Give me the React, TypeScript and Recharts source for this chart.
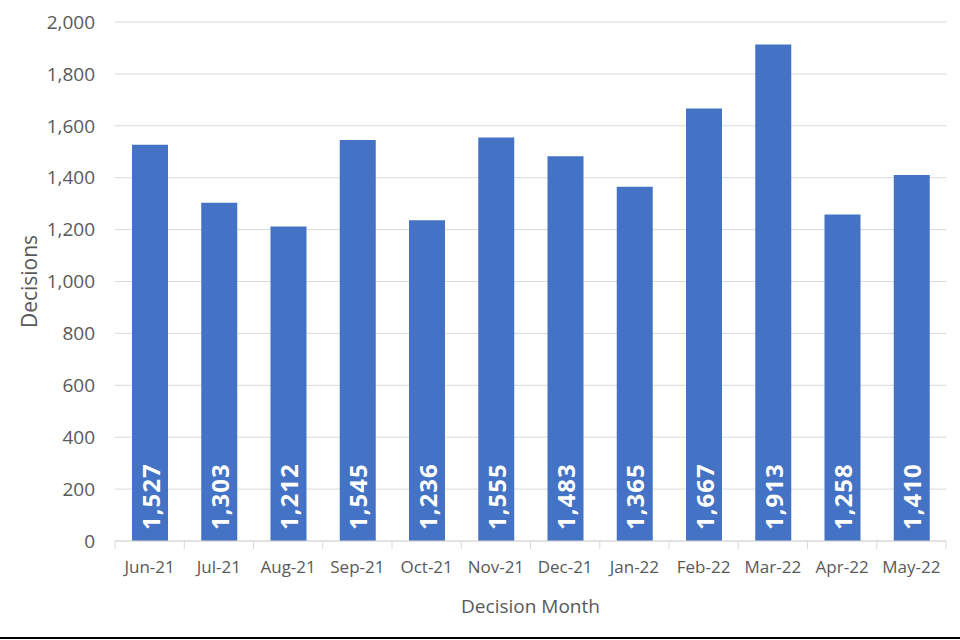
import React from "react";
import { BarChart, Bar, XAxis, YAxis, CartesianGrid, LabelList } from "recharts";

const months = ["Jun-21", "Jul-21", "Aug-21", "Sep-21", "Oct-21", "Nov-21", "Dec-21", "Jan-22", "Feb-22", "Mar-22", "Apr-22", "May-22"];
const decisions = [1527, 1303, 1212, 1545, 1236, 1555, 1483, 1365, 1667, 1913, 1258, 1410];
const yTicks = [0, 200, 400, 600, 800, 1000, 1200, 1400, 1600, 1800, 2000];

const data = months.map((m, i) => ({ month: m, value: decisions[i] }));

const font = "Open Sans, Liberation Sans, sans-serif";
const fmt = (v: number) => v.toLocaleString("en-US");

const MonthTick = (props: any) => {
  const { x, y, payload, index } = props;
  const half = 34.6;
  return (
    <g>
      <line x1={x - half} y1={y - 8} x2={x - half} y2={y} stroke="#d9d9d9" />
      {index === months.length - 1 && <line x1={x + half} y1={y - 8} x2={x + half} y2={y} stroke="#d9d9d9" />}
      <text x={x} y={y + 24} textAnchor="middle" fill="#595959" fontSize={17} fontFamily={font}>
        {payload.value}
      </text>
    </g>
  );
};

const BarLabel = (props: any) => {
  const { x, y, width, height, value } = props;
  const cx = x + width / 2;
  const by = y + height - 11;
  return (
    <text
      x={cx}
      y={by}
      transform={`rotate(-90 ${cx} ${by})`}
      textAnchor="start"
      dominantBaseline="central"
      fill="#ffffff"
      fontSize={24}
      fontWeight="bold"
      letterSpacing={1}
      fontFamily={font}
    >
      {fmt(value)}
    </text>
  );
};

export default function App() {
  return (
    <div style={{ position: "fixed", left: 0, top: 0, width: 960, height: 640, background: "#fff" }}>
      <BarChart width={960} height={640} data={data} margin={{ top: 22, right: 14, left: 0, bottom: 39 }} barSize={36}>
        <CartesianGrid vertical={false} stroke="#d9d9d9" />
        <XAxis
          dataKey="month"
          stroke="#d9d9d9"
          tickLine={false}
          tick={<MonthTick />}
          height={60}
          interval={0}
          label={{ value: "Decision Month", position: "insideBottom", offset: -12, fill: "#595959", fontSize: 19, fontFamily: font }}
        />
        <YAxis
          width={115}
          domain={[0, 2000]}
          ticks={yTicks}
          axisLine={false}
          tickLine={false}
          tickMargin={14}
          tickFormatter={fmt}
          tick={{ fill: "#595959", fontSize: 19, fontFamily: font }}
          label={{ value: "Decisions", angle: -90, position: "insideLeft", offset: 30, fill: "#595959", fontSize: 21, fontFamily: font, style: { textAnchor: "middle" } }}
        />
        <Bar dataKey="value" fill="#4472C4" isAnimationActive={false}>
          <LabelList dataKey="value" content={<BarLabel />} />
        </Bar>
      </BarChart>
      <div style={{ position: "absolute", left: 0, top: 637, width: 960, height: 2, background: "#000" }} />
    </div>
  );
}
